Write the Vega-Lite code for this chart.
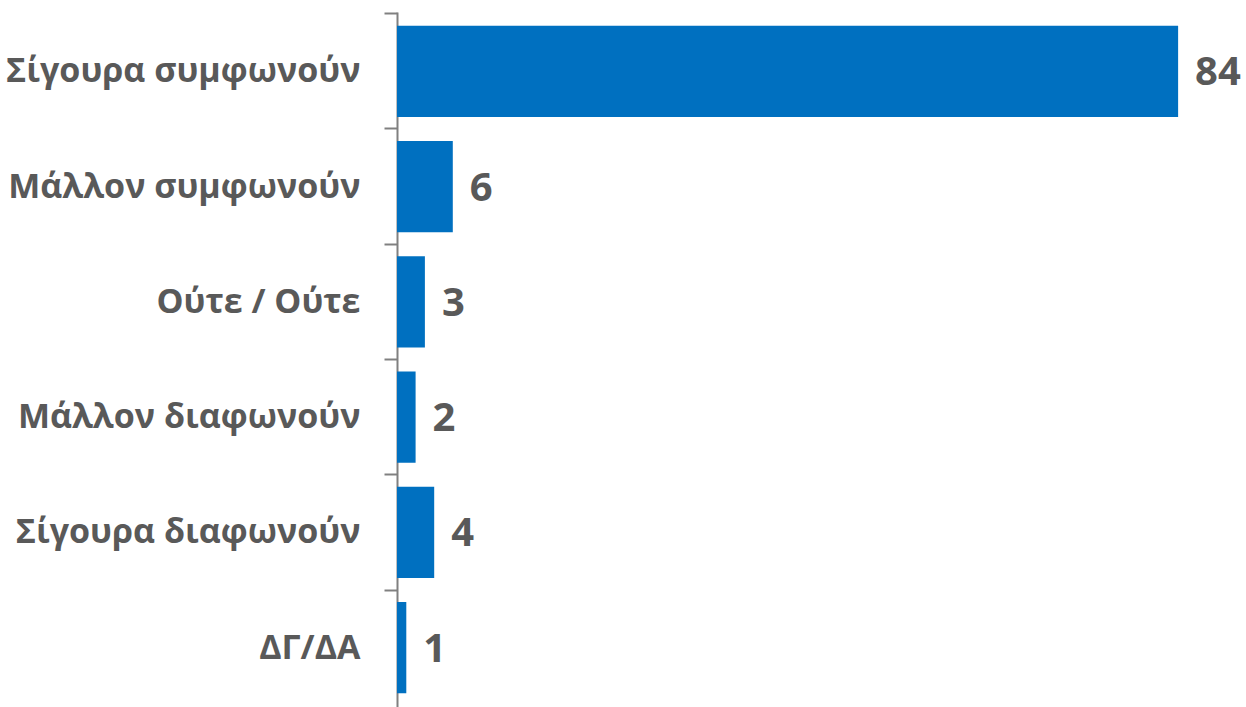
{
  "$schema": "https://vega.github.io/schema/vega-lite/v6.json",
  "autosize": {"type": "none"},
  "padding": {"left": 397, "top": 12, "right": 0, "bottom": 0},
  "width": 849,
  "height": 695,
  "background": "white",
  "data": {"values": [
    {"category": "Σίγουρα συμφωνούν", "value": 84},
    {"category": "Μάλλον συμφωνούν", "value": 6},
    {"category": "Ούτε / Ούτε", "value": 3},
    {"category": "Μάλλον διαφωνούν", "value": 2},
    {"category": "Σίγουρα διαφωνούν", "value": 4},
    {"category": "ΔΓ/ΔΑ", "value": 1}
  ]},
  "encoding": {
    "y": {
      "field": "category", "type": "nominal", "sort": null,
      "scale": {"paddingInner": 0.21, "paddingOuter": 0.12},
      "axis": {
        "title": null,
        "domainColor": "#808080", "domainWidth": 2,
        "tickColor": "#808080", "tickWidth": 2, "tickSize": 13,
        "bandPosition": -0.133,
        "labelFont": "Open Sans", "labelFontWeight": "bold", "labelFontSize": 34,
        "labelColor": "#595959", "labelPadding": 24, "labelLimit": 400,
        "labelOffset": 1
      }
    },
    "x": {
      "field": "value", "type": "quantitative",
      "scale": {"domain": [0, 91.3], "nice": false},
      "axis": null
    }
  },
  "layer": [
    {"mark": {"type": "bar", "color": "#0070C0"}},
    {"mark": {"type": "text", "align": "left", "baseline": "middle", "dx": 17, "dy": 2, "font": "Open Sans", "fontWeight": "bold", "fontSize": 40, "color": "#595959"},
     "encoding": {"text": {"field": "value", "type": "quantitative"}}}
  ],
  "config": {"view": {"stroke": null}}
}
